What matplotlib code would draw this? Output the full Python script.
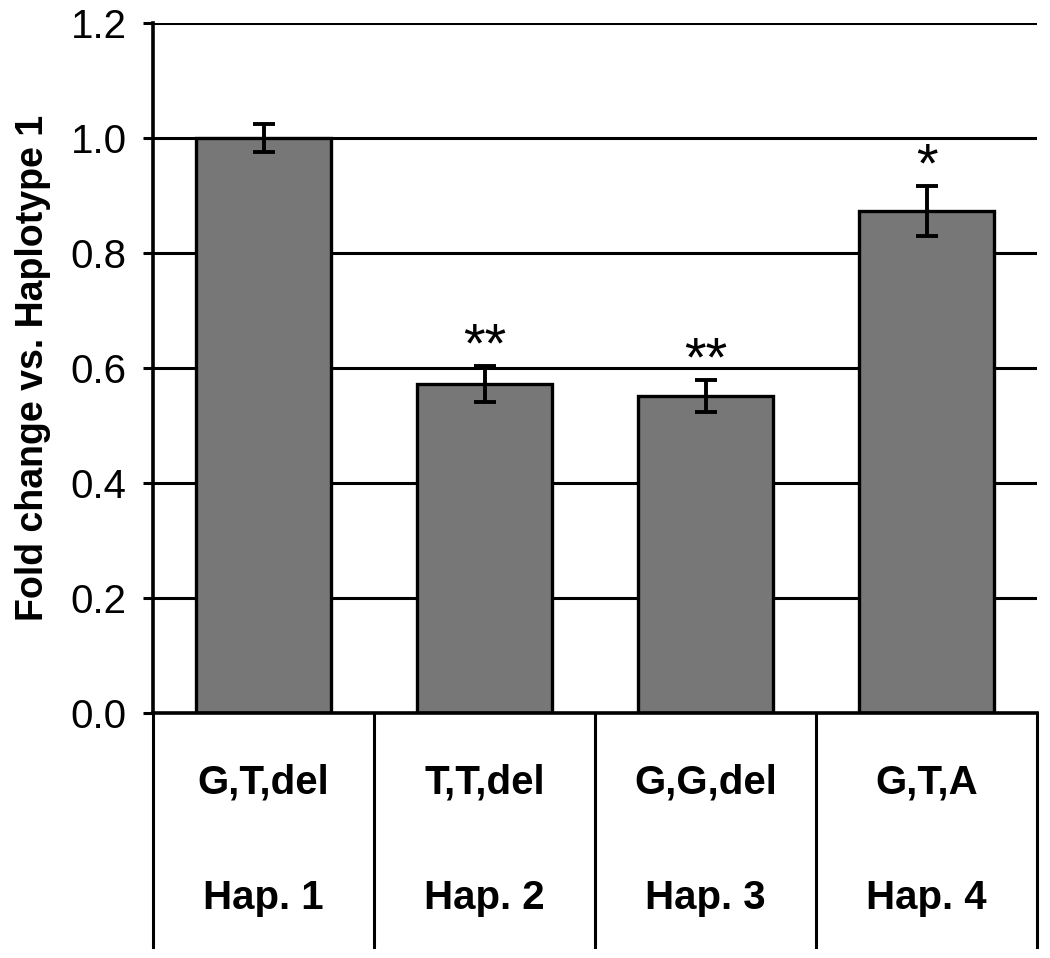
#!/usr/bin/env python
# coding: utf-8
"""
Bar chart of fold change per haplotype, with a two-row label table under the axis.
"""
import numpy as np
import matplotlib
matplotlib.use('Agg')
from matplotlib import pyplot as plt

plt.rcParams['font.family'] = ['Liberation Sans', 'DejaVu Sans']

alleles = ['G,T,del', 'T,T,del', 'G,G,del', 'G,T,A']
haplotypes = ['Hap. 1', 'Hap. 2', 'Hap. 3', 'Hap. 4']
fold_change = [1.0, 0.572, 0.551, 0.873]
errors = [0.025, 0.031, 0.028, 0.043]
signif = ['', '**', '**', '*']
yticks = [0.0, 0.2, 0.4, 0.6, 0.8, 1.0, 1.2]

fig = plt.figure(figsize=(10.5, 9.58), dpi=100)
ax = fig.add_axes([153/1050, 1 - 713/958, (1037-153)/1050, (713-23)/958])

x = np.arange(len(fold_change))
ax.set_axisbelow(True)
for t in yticks[1:]:
    ax.axhline(t, color='black', lw=2.2, zorder=0)

ax.bar(x, fold_change, width=0.61, color='#777777', edgecolor='black', lw=2.4, zorder=2)
ax.errorbar(x, fold_change, yerr=errors, fmt='none', ecolor='black',
            elinewidth=2.8, capsize=8, capthick=2.8, zorder=3)
for xi, v, e, s in zip(x, fold_change, errors, signif):
    if s:
        ax.text(xi, v + e + 0.008, s, ha='center', va='baseline', fontsize=40, zorder=4)

ax.set_xlim(-0.5, len(x) - 0.5)
ax.set_ylim(0, 1.2)
ax.set_yticks(yticks)
ax.set_yticklabels(['{:.1f}'.format(t) for t in yticks], fontsize=29)
ax.tick_params(axis='y', direction='out', length=7, width=2.2, pad=12)
ax.set_xticks([])
for side in ['top', 'right']:
    ax.spines[side].set_visible(False)
ax.spines['left'].set_linewidth(2.6)
ax.spines['bottom'].set_linewidth(2.6)
ax.set_ylabel('Fold change vs. Haplotype 1', fontsize=27, fontweight='bold', labelpad=14)

# label table under the axis
trans = ax.get_xaxis_transform()
bottom = -0.339
for b in np.arange(len(x) + 1) - 0.5:
    ax.plot([b, b], [0, bottom], color='black', lw=2.2, transform=trans, clip_on=False)
for xi, a, h in zip(x, alleles, haplotypes):
    ax.text(xi, -0.101, a, ha='center', va='center', fontsize=29, fontweight='bold', transform=trans)
    ax.text(xi, -0.268, h, ha='center', va='center', fontsize=29, fontweight='bold', transform=trans)

fig.savefig('out.png', dpi=100)
